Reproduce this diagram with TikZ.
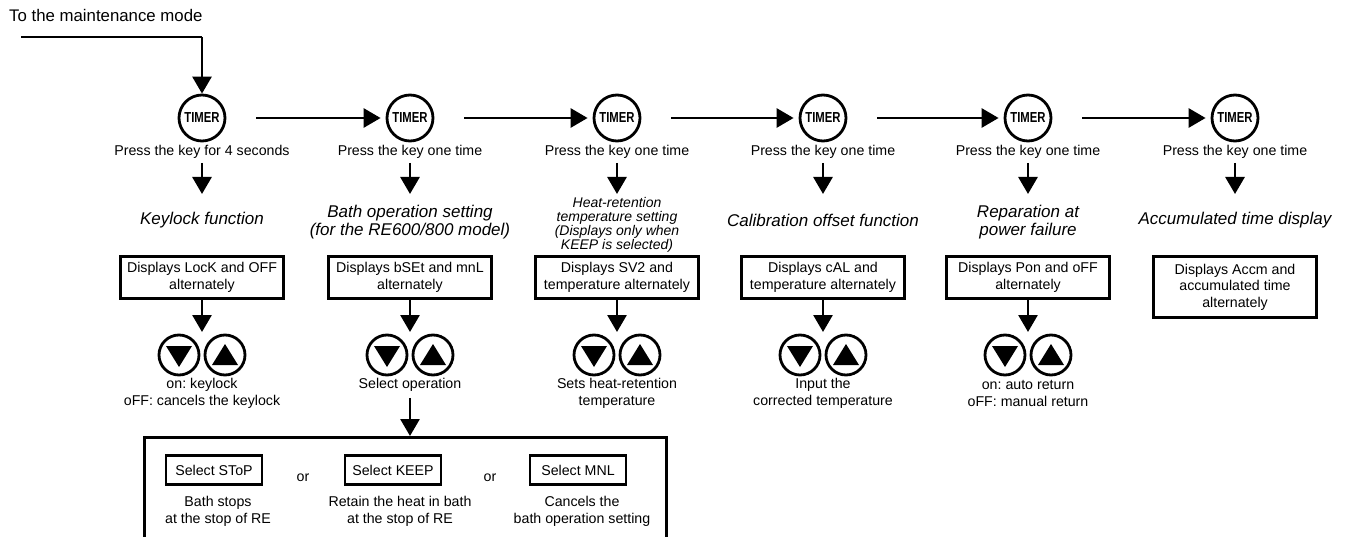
\documentclass[tikz,border=0pt]{standalone}
\usepackage{fontspec}
\setmainfont{Liberation Sans}
\usetikzlibrary{arrows.meta,calc}
\frenchspacing
\begin{document}
\begin{tikzpicture}[x=1pt,y=-1pt,
  thick line/.style={line width=2.8pt},
  arr/.style={thick line,-{Triangle[length=17pt,width=19pt]}},
  timer/.style={circle,draw,thick line,minimum size=46pt,inner sep=0pt,
    font=\fontsize{14.5}{14.5}\selectfont\bfseries},
  body/.style={font=\fontsize{14.2}{17}\selectfont,align=center,inner sep=0pt},
  ttl/.style={font=\fontsize{17}{18.5}\selectfont\itshape,align=center,inner sep=0pt},
  smallttl/.style={font=\fontsize{14}{13.8}\selectfont\itshape,align=center,inner sep=0pt},
  disp/.style={draw,thick line,minimum width=163pt,minimum height=42pt,align=center,
    inner sep=2pt,font=\fontsize{14.2}{16.5}\selectfont},
  btn/.style={circle,draw,thick line,minimum size=40pt,inner sep=0pt},
  sel/.style={draw,thick line,minimum width=96pt,minimum height=29pt,inner sep=0pt,
    font=\fontsize{14.2}{17}\selectfont},
  frame/.style={draw,thick line,minimum width=522pt,minimum height=130pt,inner sep=0pt}
]
\useasboundingbox (0,0) rectangle (1349,537);

% top entry
\node[anchor=west,inner sep=0pt,font=\fontsize{16.8}{18}\selectfont] (top) at (9,15) {To the maintenance mode};
\coordinate (s0) at (21,37);

% TIMER keys
\foreach \i/\x in {1/202,2/410,3/617,4/823,5/1028,6/1235}{
  \node[timer] (t\i) at (\x,118) {\scalebox{0.78}[1]{TIMER}};
  \coordinate (a\i) at (\x,194);
}
\draw[thick line] (s0) -- (s0 -| t1);
\draw[arr] (s0 -| t1) -- (t1.north);
\foreach \i/\j in {1/2,2/3,3/4,4/5,5/6}{
  \draw[arr] ([xshift=30pt]t\i.east) -- ([xshift=-5pt]t\j.west);
}

% press texts
\node[body] (p1) at (202,152) {Press the key for 4 seconds};
\foreach \i/\x in {2/410,3/617,4/823,5/1028,6/1235}{
  \node[body] (p\i) at (\x,152) {Press the key one time};
}
\foreach \i in {1,...,6}{
  \draw[arr,shorten <=4pt] (p\i.south) -- (a\i);
}

% titles
\node[ttl] (f1) at (202,220) {Keylock function};
\node[ttl] (f2) at (410,222) {Bath operation setting\\(for the RE600/800 model)};
\node[smallttl] (f3) at (617,225) {Heat-retention\\temperature setting\\(Displays only when\\KEEP is selected)};
\node[ttl] (f4) at (823,220) {Calibration offset function};
\node[ttl] (f5) at (1028,222) {Reparation at\\power failure};
\node[ttl] (f6) at (1235,220) {Accumulated time display};

% display boxes
\node[disp,anchor=north] (b1) at (202,255) {Displays LocK and OFF\\alternately};
\node[disp,anchor=north] (b2) at (410,255) {Displays bSEt and mnL\\alternately};
\node[disp,anchor=north] (b3) at (617,255) {Displays SV2 and\\temperature alternately};
\node[disp,anchor=north] (b4) at (823,255) {Displays cAL and\\temperature alternately};
\node[disp,anchor=north] (b5) at (1028,255) {Displays Pon and oFF\\alternately};
\node[disp,anchor=north,minimum height=61pt] (b6) at (1235,255) {Displays Accm and\\accumulated time\\alternately};

% arrow keys
\foreach \i/\x in {1/202,2/410,3/617,4/823,5/1028}{
  \coordinate (m\i) at (\x,332);
  \draw[arr] (b\i.south) -- (m\i);
  \node[btn] (dn\i) at (\x-23,355) {};
  \node[btn] (up\i) at (\x+23,355) {};
  \fill (dn\i.center) ++(-13,-9) -- ++(26,0) -- ++(-13,21) -- cycle;
  \fill (up\i.center) ++(-13,10) -- ++(26,0) -- ++(-13,-21) -- cycle;
}

% texts under keys
\node[body] (l1) at (202,393) {on: keylock\\oFF: cancels the keylock};
\node[body] (l2) at (410,385) {Select operation};
\node[body] (l3) at (617,393) {Sets heat-retention\\temperature};
\node[body] (l4) at (823,393) {Input the\\corrected temperature};
\node[body] (l5) at (1028,393) {on: auto return\\oFF: manual return};

% bath operation choices
\node[frame,anchor=north west] (fr) at (143,436) {};
\draw[arr,shorten <=6pt] (l2.south) -- (l2.south |- fr.north);

\node[sel] (s1) at (214,470) {Select SToP};
\node[body] (o1) at (303,478) {or};
\node[sel] (s2) at (393,470) {Select KEEP};
\node[body] (o2) at (490,478) {or};
\node[sel] (s3) at (578,470) {Select MNL};
\node[body] (d1) at (218,511) {Bath stops\\at the stop of RE};
\node[body] (d2) at (400,511) {Retain the heat in bath\\at the stop of RE};
\node[body] (d3) at (582,511) {Cancels the\\bath operation setting};
\end{tikzpicture}
\end{document}
